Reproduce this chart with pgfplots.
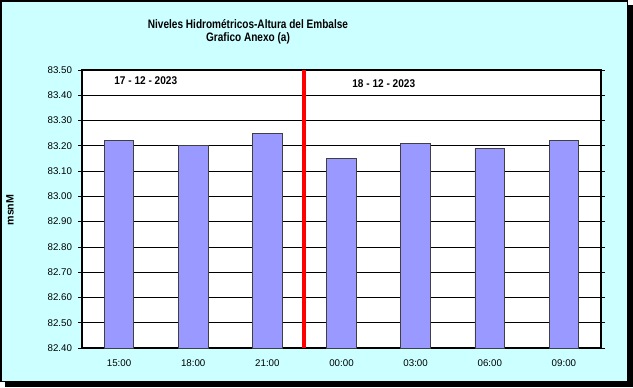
\documentclass[border=0pt]{standalone}
\usepackage{pgfplots}
\pgfplotsset{compat=1.18}
\usepackage{fontspec}
\setmainfont{Liberation Sans}
\newfontfamily\narrowbold[FakeStretch=0.82]{Liberation Sans Bold}
\newfontfamily\datebold[FakeStretch=0.9]{Liberation Sans Bold}
\definecolor{bgcyan}{HTML}{CCFFFF}
\definecolor{barfill}{HTML}{9999FF}
\begin{document}
\begin{tikzpicture}[x=0.75pt,y=-0.75pt]
% outer background, shadow and frame
\fill[black] (5,5) rectangle (633,387);
\fill[bgcyan] (0,0) rectangle (628,382);
\draw[black,line width=1.2pt] (0.8,0.8) rectangle (627.5,381.5);
\begin{axis}[
  at={(61.5pt,-261pt)}, anchor=south west,
  scale only axis, width=389.25pt, height=208.5pt,
  xmin=-0.5, xmax=6.5, ymin=82.4, ymax=83.5,
  axis background/.style={fill=white},
  axis line style={black,line width=1.2pt},
  ytick={82.4,82.5,...,83.55},
  yticklabel style={/pgf/number format/fixed,/pgf/number format/fixed zerofill,/pgf/number format/precision=2,/pgf/number format/assume math mode=true},
  yticklabel style={font=\fontsize{7.3}{8}\selectfont, xshift=-1pt},
  ymajorgrids, major grid style={black,line width=0.6pt},
  tick align=outside, major tick length=3pt, minor tick length=3pt,
  tick style={black,line width=0.6pt},
  xtick={0,...,6},
  xticklabels={15:00,18:00,21:00,00:00,03:00,06:00,09:00},
  xticklabel style={font=\fontsize{7.3}{8}\selectfont, yshift=-2pt},
  extra x ticks={-0.5,0.5,...,6.5}, extra x tick labels={},
  x tick style={draw=none},
  extra x tick style={grid=none, tick style={draw=black,line width=0.6pt}},
  clip=false,
]
\addplot[ybar, bar width=0.4, fill=barfill, draw=black!75, line width=0.6pt]
  coordinates {(0,83.22)(1,83.20)(2,83.25)(3,83.15)(4,83.21)(5,83.19)(6,83.22)};
\addplot[red, line width=3pt] coordinates {(2.5,82.4)(2.5,83.5)};
\node[font=\datebold\fontsize{8.4}{9}\selectfont] at (axis cs:0.36,83.456) {17 - 12 - 2023};
\node[font=\datebold\fontsize{8.4}{9}\selectfont] at (axis cs:3.57,83.445) {18 - 12 - 2023};
\end{axis}
\node[font=\narrowbold\fontsize{9.2}{11}\selectfont, align=center] at (248,32) {Niveles Hidrométricos-Altura del Embalse\\[-1pt]Grafico Anexo (a)};
\node[font=\bfseries\fontsize{8}{9}\selectfont, rotate=90] at (10,210) {msnM};
\end{tikzpicture}
\end{document}
